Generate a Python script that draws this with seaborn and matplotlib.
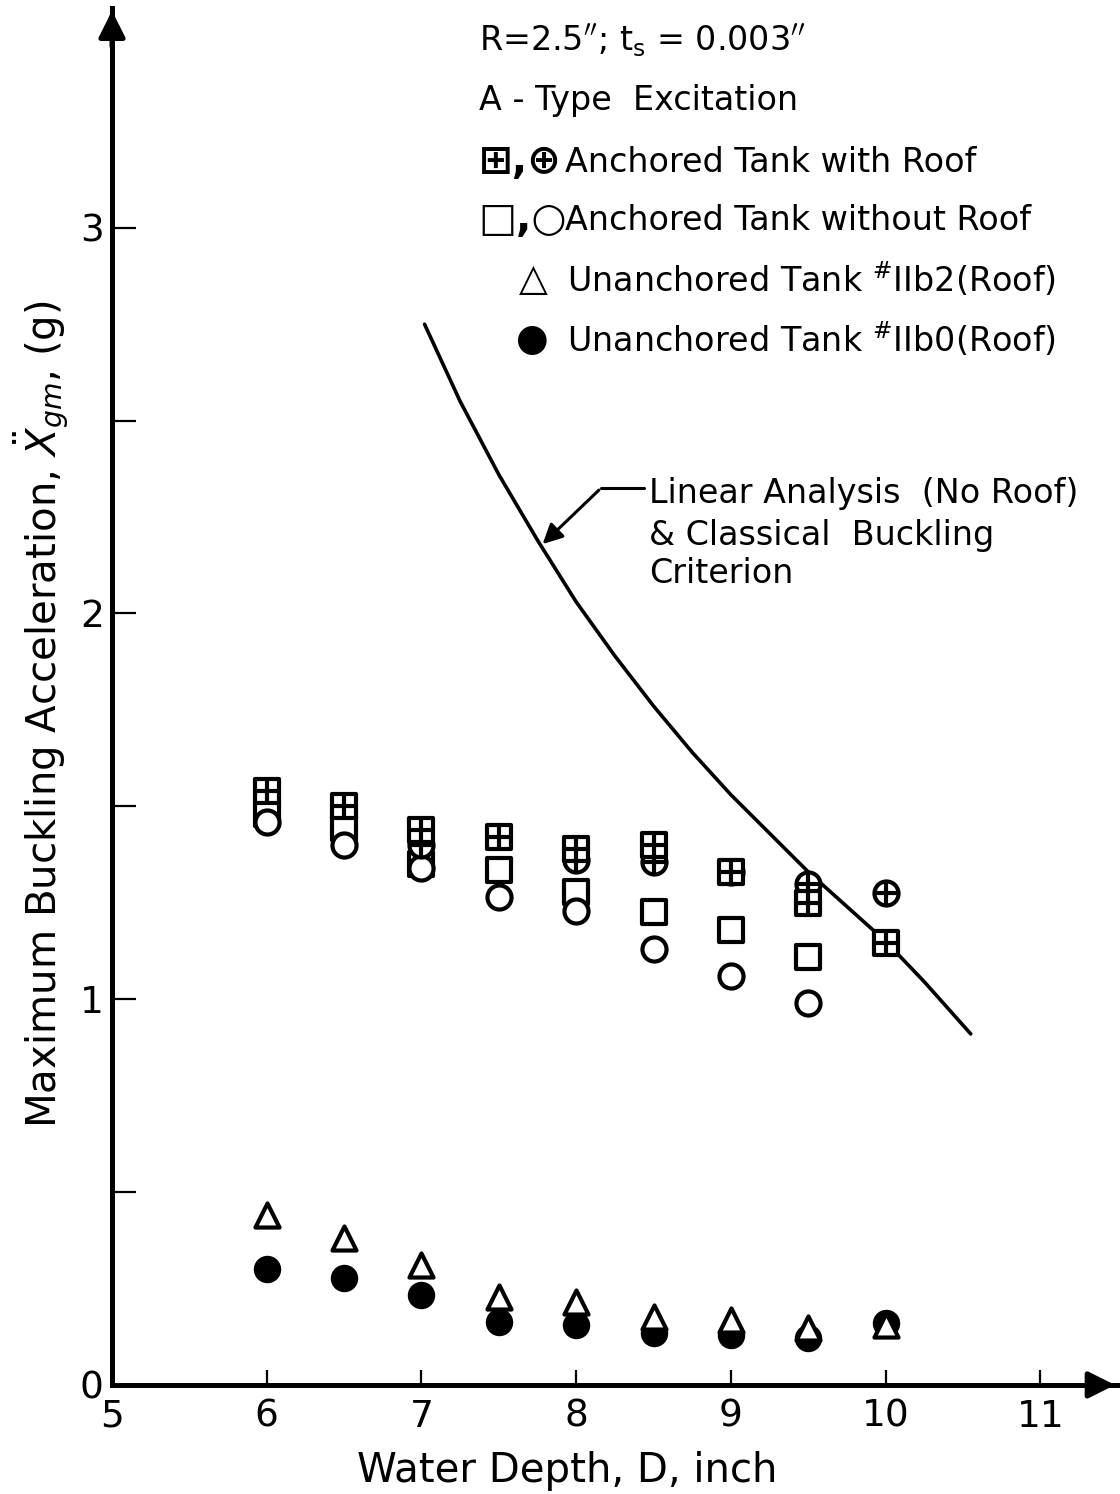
import numpy as np
import pandas as pd
import matplotlib
matplotlib.use("Agg")
import matplotlib.pyplot as plt
import seaborn as sns

# ---------------- data ----------------
depth_sq_roof = [6, 6.5, 7, 7.5, 8, 8.5, 9, 9.5, 10]
acc_sq_roof = [1.54, 1.50, 1.44, 1.42, 1.39, 1.40, 1.33, 1.25, 1.145]

depth_ci_roof = [7, 8, 8.5, 9, 9.5, 10]
acc_ci_roof = [1.40, 1.36, 1.355, 1.33, 1.30, 1.275]

depth_sq_noroof = [6, 6.5, 7, 7.5, 8, 8.5, 9, 9.5]
acc_sq_noroof = [1.48, 1.445, 1.35, 1.334, 1.277, 1.225, 1.18, 1.11]

depth_ci_noroof = [6, 6.5, 7, 7.5, 8, 8.5, 9, 9.5]
acc_ci_noroof = [1.46, 1.40, 1.34, 1.264, 1.23, 1.13, 1.06, 0.99]

depth_unanch = [6, 6.5, 7, 7.5, 8, 8.5, 9, 9.5, 10]
acc_iib2 = [0.44, 0.38, 0.31, 0.228, 0.215, 0.176, 0.168, 0.148, 0.155]
acc_iib0 = [0.30, 0.277, 0.233, 0.163, 0.155, 0.135, 0.13, 0.122, 0.16]

curve_depth = [7.02, 7.25, 7.5, 7.75, 8.0, 8.25, 8.5, 8.75, 9.0, 9.25, 9.5, 9.75, 10.0, 10.25, 10.55]
curve_acc = [2.75, 2.55, 2.36, 2.19, 2.03, 1.89, 1.76, 1.64, 1.53, 1.43, 1.33, 1.24, 1.15, 1.045, 0.91]

x_ticks = [5, 6, 7, 8, 9, 10, 11]
y_ticks = [0, 0.5, 1, 1.5, 2, 2.5, 3]
y_tick_labels = ["0", "", "1", "", "2", "", "3"]

header_lines = [r"R=2.5$''$; t$_\mathregular{s}$ = 0.003$''$", "A - Type  Excitation"]
anch_symbols = ["\u229e,\u2295", "\u25a1,\u25cb"]
anch_labels = ["Anchored Tank with Roof", "Anchored Tank without Roof"]
unanch_symbols = ["\u25b3", "\u25cf"]
unanch_labels = ["Unanchored Tank $^{\\#}$IIb2(Roof)", "Unanchored Tank $^{\\#}$IIb0(Roof)"]
annot_lines = ["Linear Analysis  (No Roof)", "& Classical  Buckling", "Criterion"]

# ---------------- figure ----------------
sns.set_style("ticks")
plt.rcParams["font.family"] = ["DejaVu Sans"]
plt.rcParams["mathtext.fontset"] = "dejavusans"
for key in ("text.color", "axes.labelcolor", "xtick.color", "ytick.color", "axes.edgecolor"):
    plt.rcParams[key] = "black"

fig = plt.figure(figsize=(11.2, 14.94), dpi=100)
ax = fig.add_axes([0.1, 0.073, 0.898, 0.9217])

ms = 300
ew = 3.0

# curve
sns.lineplot(x=curve_depth, y=curve_acc, ax=ax, color="black", lw=2.6, sort=False)

# anchored without roof
sns.scatterplot(x=depth_sq_noroof, y=acc_sq_noroof, ax=ax, marker="s", s=ms,
                facecolor="white", edgecolor="black", linewidth=ew, zorder=3)
sns.scatterplot(x=depth_ci_noroof, y=acc_ci_noroof, ax=ax, marker="o", s=ms,
                facecolor="white", edgecolor="black", linewidth=ew, zorder=3)
# anchored with roof
sns.scatterplot(x=depth_ci_roof, y=acc_ci_roof, ax=ax, marker="o", s=ms,
                facecolor="white", edgecolor="black", linewidth=ew, zorder=4)
sns.scatterplot(x=depth_ci_roof, y=acc_ci_roof, ax=ax, marker="+", s=ms * 0.8,
                color="black", linewidth=ew, zorder=4)
sns.scatterplot(x=depth_sq_roof, y=acc_sq_roof, ax=ax, marker="s", s=ms,
                facecolor="white", edgecolor="black", linewidth=ew, zorder=5)
sns.scatterplot(x=depth_sq_roof, y=acc_sq_roof, ax=ax, marker="+", s=ms * 0.9,
                color="black", linewidth=ew, zorder=5)
# unanchored
sns.scatterplot(x=depth_unanch, y=acc_iib0, ax=ax, marker="o", s=ms * 1.3,
                color="black", edgecolor="black", linewidth=0, zorder=3)
sns.scatterplot(x=depth_unanch, y=acc_iib2, ax=ax, marker="^", s=ms,
                facecolor="white", edgecolor="black", linewidth=ew, zorder=4)

# axes
ax.set_xlim(5, 11.5)
ax.set_ylim(0, 3.57)
sns.despine(ax=ax)
for side in ("left", "bottom"):
    ax.spines[side].set_linewidth(3.6)
    ax.spines[side].set_color("black")
ax.set_xticks(x_ticks)
ax.set_xticklabels([str(v) for v in x_ticks])
ax.set_yticks(y_ticks)
ax.set_yticklabels(y_tick_labels)
ax.tick_params(axis="x", direction="in", length=11, width=1.6, pad=10, labelsize=27)
ax.tick_params(axis="y", direction="in", length=17, width=1.6, pad=6, labelsize=27)

ax.set_xlabel("Water Depth, D, inch", fontsize=29, labelpad=6)
ax.xaxis.set_label_coords(0.453, -0.048)
ax.set_ylabel(r"Maximum Buckling Acceleration, $\ddot{X}_{gm}$, (g)", fontsize=29)
ax.yaxis.set_label_coords(-0.04, 0.487)

# axis arrows
ax.annotate("", xy=(0, 1.0), xytext=(0, 0.97), xycoords="axes fraction",
            arrowprops=dict(arrowstyle="-|>", mutation_scale=40, color="black", lw=3.6),
            annotation_clip=False)
ax.annotate("", xy=(1.0, 0), xytext=(0.97, 0), xycoords="axes fraction",
            arrowprops=dict(arrowstyle="-|>", mutation_scale=40, color="black", lw=3.6),
            annotation_clip=False)

# legend block
fs = 24
for txt, yy in zip(header_lines, [3.485, 3.33]):
    ax.text(7.37, yy, txt, fontsize=fs, va="center", ha="left")
for sym, lab, yy in zip(anch_symbols, anch_labels, [3.17, 3.02]):
    ax.text(7.37, yy, sym, fontsize=fs + 5, va="center", ha="left", fontweight="bold")
    ax.text(7.93, yy, lab, fontsize=fs, va="center", ha="left")
for sym, lab, yy in zip(unanch_symbols, unanch_labels, [2.865, 2.71]):
    ax.text(7.72, yy, sym, fontsize=fs + 3, va="center", ha="center", fontweight="bold")
    ax.text(7.94, yy, lab, fontsize=fs, va="center", ha="left")

# annotation
for txt, yy in zip(annot_lines, [2.311, 2.202, 2.104]):
    ax.text(8.47, yy, txt, fontsize=fs, va="center", ha="left")
ax.annotate("", xy=(7.77, 2.175), xytext=(8.16, 2.325),
            arrowprops=dict(arrowstyle="-|>", mutation_scale=30, color="black", lw=2.2))
ax.plot([8.16, 8.44], [2.325, 2.325], color="black", lw=2.2)

fig.savefig("out.png", dpi=100)
